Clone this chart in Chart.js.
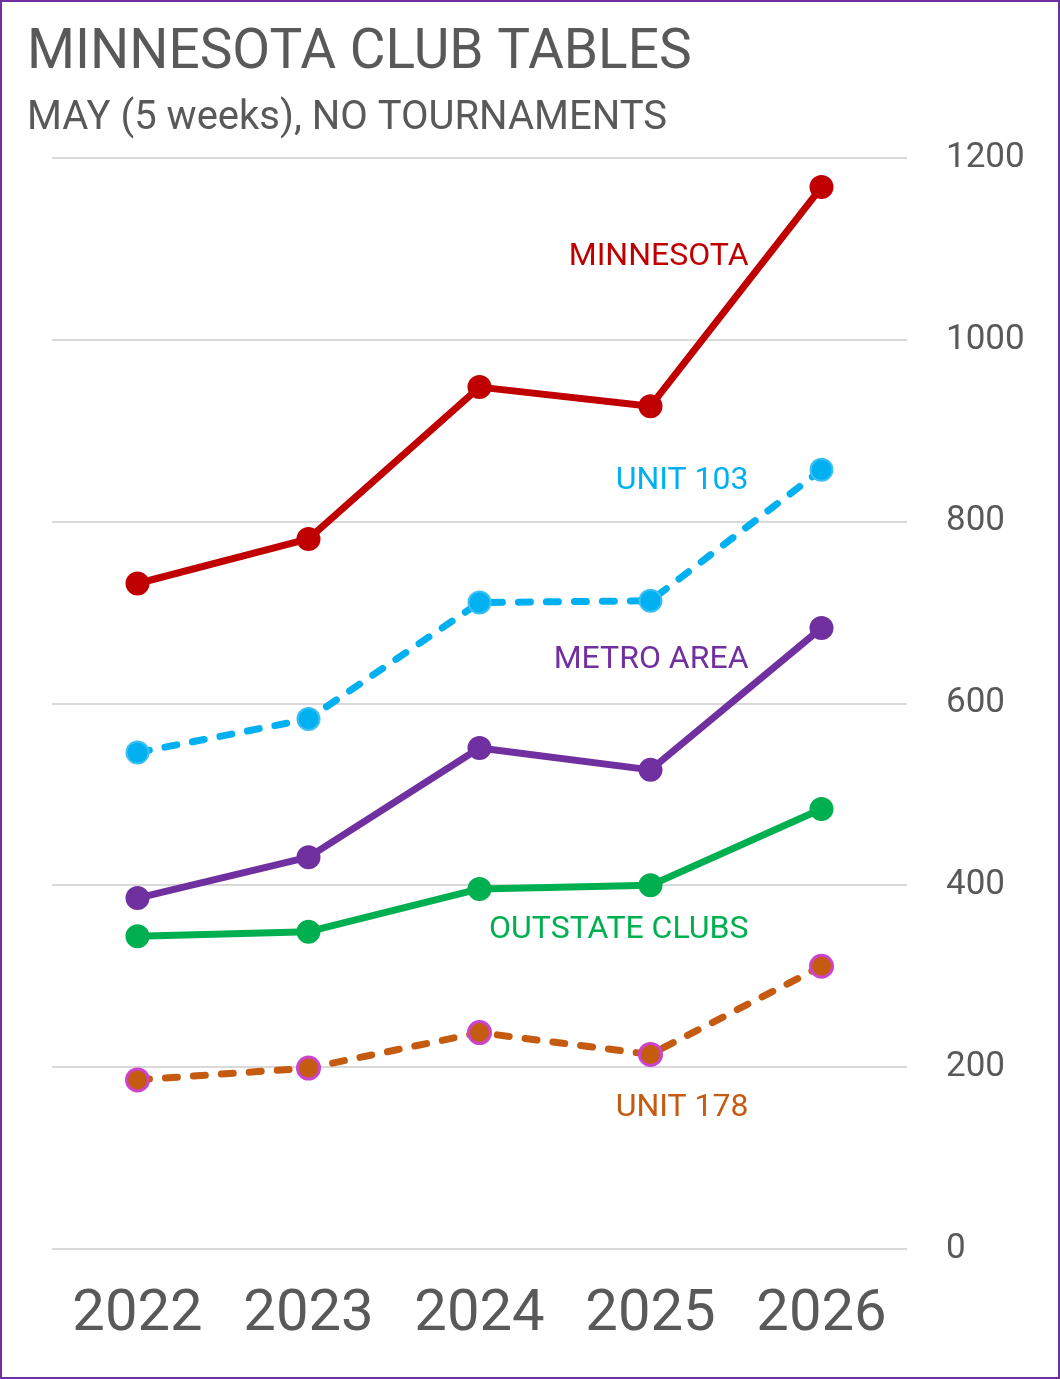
<!DOCTYPE html>
<html>
<head>
<meta charset="utf-8">
<script src="https://cdn.jsdelivr.net/npm/chart.js@4/dist/chart.umd.min.js"></script>
<style>
  html, body { margin: 0; padding: 0; background: #fff; }
  canvas { display: block; }
</style>
</head>
<body>
<canvas id="chart" width="1060" height="1379"></canvas>
<script>
const years = ['2022', '2023', '2024', '2025', '2026']

const minnesota = [732, 781, 948, 927, 1168]
const unit103 = [546, 583, 711, 713, 857]
const metroArea = [386, 431, 551, 527, 683]
const outstateClubs = [344, 349, 396, 400, 484]
const unit178 = [186, 199, 238, 214, 311]

const yTicks = [0, 200, 400, 600, 800, 1000, 1200]

const titleText = 'MINNESOTA CLUB TABLES'
const subtitleText = 'MAY (5 weeks), NO TOURNAMENTS'

const fontFamily = 'Roboto, sans-serif'
const grey = '#595959'

// draw title, subtitle and frame
const frame = {
  id: 'frame',
  beforeDraw: (chart) => {
    const ctx = chart.ctx
    ctx.save()
    ctx.fillStyle = '#fff'
    ctx.fillRect(0, 0, chart.width, chart.height)
    ctx.restore()
  },
  afterDraw: (chart) => {
    const ctx = chart.ctx
    ctx.save()
    ctx.fillStyle = grey
    ctx.textAlign = 'left'
    ctx.textBaseline = 'alphabetic'
    ctx.font = `55px ${fontFamily}`
    ctx.fillText(titleText, 27, 68)
    ctx.font = `40px ${fontFamily}`
    ctx.fillText(subtitleText, 27, 129)
    ctx.strokeStyle = '#7030A0'
    ctx.lineWidth = 2
    ctx.strokeRect(1, 1, chart.width - 2, chart.height - 2)
    ctx.restore()
  }
}

// series names beside the last point
const seriesLabels = {
  id: 'seriesLabels',
  afterDatasetsDraw: (chart) => {
    const ctx = chart.ctx
    ctx.save()
    ctx.font = `32px ${fontFamily}`
    ctx.textAlign = 'right'
    ctx.textBaseline = 'middle'
    chart.data.datasets.forEach((ds, i) => {
      const meta = chart.getDatasetMeta(i)
      const last = meta.data[meta.data.length - 1]
      ctx.fillStyle = ds.borderColor
      ctx.fillText(ds.label, last.x - 73, last.y + ds.labelOffset)
    })
    ctx.restore()
  }
}

const ctx = document.getElementById('chart').getContext('2d')

new Chart(ctx, {
  type: 'line',
  data: {
    labels: years,
    datasets: [
      {
        label: 'MINNESOTA',
        data: minnesota,
        borderColor: '#C00000',
        backgroundColor: '#C00000',
        pointBorderColor: '#C00000',
        labelOffset: 70
      },
      {
        label: 'UNIT 103',
        data: unit103,
        borderColor: '#00B0F0',
        backgroundColor: '#00B0F0',
        pointBorderColor: '#3CC0F2',
        borderDash: [12, 16],
        labelOffset: 11
      },
      {
        label: 'METRO AREA',
        data: metroArea,
        borderColor: '#7030A0',
        backgroundColor: '#7030A0',
        pointBorderColor: '#7030A0',
        labelOffset: 32
      },
      {
        label: 'OUTSTATE CLUBS',
        data: outstateClubs,
        borderColor: '#00B050',
        backgroundColor: '#00B050',
        pointBorderColor: '#00B050',
        labelOffset: 121
      },
      {
        label: 'UNIT 178',
        data: unit178,
        borderColor: '#C55A11',
        backgroundColor: '#C55A11',
        pointBorderColor: '#CC44CC',
        pointBorderWidth: 3,
        borderDash: [12, 16],
        labelOffset: 142
      }
    ]
  },
  options: {
    responsive: false,
    animation: false,
    devicePixelRatio: 1,
    layout: { padding: { left: 52, right: 0, top: 158, bottom: 0 } },
    elements: {
      line: { borderWidth: 7, tension: 0, borderCapStyle: 'round', borderJoinStyle: 'round' },
      point: { radius: 11, borderWidth: 2, hoverRadius: 11 }
    },
    plugins: {
      legend: { display: false },
      tooltip: { enabled: false }
    },
    scales: {
      x: {
        offset: true,
        grid: { display: false, drawTicks: false },
        border: { display: false },
        ticks: {
          color: grey,
          padding: 32,
          font: { family: 'Roboto', size: 58 }
        },
        afterFit: (scale) => { scale.height = 130 }
      },
      y: {
        position: 'right',
        min: 0,
        max: 1200,
        afterBuildTicks: (scale) => { scale.ticks = yTicks.map(v => ({ value: v })) },
        grid: { color: '#D9D9D9', lineWidth: 2, drawTicks: false },
        border: { display: false },
        ticks: {
          color: grey,
          padding: 39,
          font: { family: 'Roboto', size: 35 },
          callback: (value) => String(value)
        },
        afterFit: (scale) => { scale.width = 153 }
      }
    }
  },
  plugins: [frame, seriesLabels]
})
</script>
</body>
</html>
